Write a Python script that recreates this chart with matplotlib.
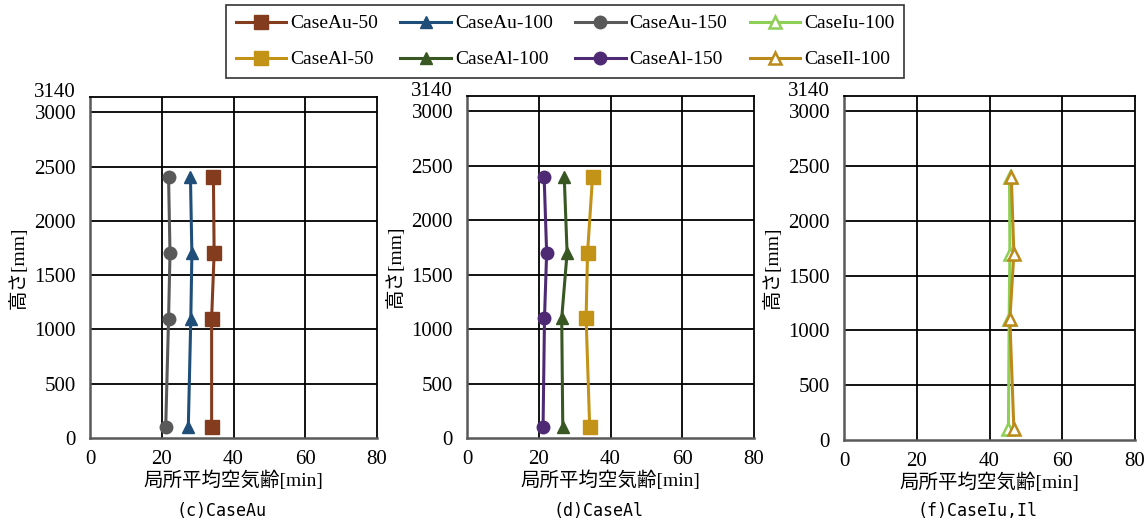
import matplotlib
matplotlib.use("Agg")
import matplotlib.pyplot as plt
from matplotlib.transforms import ScaledTranslation

# Measurement heights [mm]
heights = [100, 1100, 1700, 2400]

# Local mean age of air [min]
au_50 = [33.9, 33.9, 34.6, 34.4]
au_100 = [27.4, 28.1, 28.4, 28.0]
au_150 = [21.1, 21.9, 22.3, 21.9]
al_50 = [34.2, 33.2, 33.6, 35.0]
al_100 = [26.7, 26.4, 27.9, 27.1]
al_150 = [21.2, 21.6, 22.2, 21.5]
iu_100 = [45.2, 45.4, 45.6, 45.5]
il_100 = [46.7, 45.6, 46.7, 46.0]

x_ticks = [0, 20, 40, 60, 80]
y_ticks = [0, 500, 1000, 1500, 2000, 2500, 3000, 3140]
y_grid = [500, 1000, 1500, 2000, 2500, 3000]
captions = ["(c)CaseAu", "(d)CaseAl", "(f)CaseIu,Il"]
xlabel = "局所平均空気齢[min]"
ylabel = "高さ[mm]"

SERIF = ["Liberation Serif", "Noto Sans CJK JP"]
MONO = ["DejaVu Sans Mono", "Noto Sans CJK JP"]

C_AU50 = "#843C1F"
C_AU100 = "#1F4E79"
C_AU150 = "#595959"
C_AL50 = "#C39318"
C_AL100 = "#385723"
C_AL150 = "#4F2A74"
C_IU100 = "#8FCF55"
C_IL100 = "#BC8A1A"

series = {
    0: [("CaseAu-50", au_50, C_AU50, "s", True),
        ("CaseAu-100", au_100, C_AU100, "^", True),
        ("CaseAu-150", au_150, C_AU150, "o", True)],
    1: [("CaseAl-50", al_50, C_AL50, "s", True),
        ("CaseAl-100", al_100, C_AL100, "^", True),
        ("CaseAl-150", al_150, C_AL150, "o", True)],
    2: [("CaseIu-100", iu_100, C_IU100, "^", False),
        ("CaseIl-100", il_100, C_IL100, "^", False)],
}

W, H = 1148, 525
fig = plt.figure(figsize=(W / 100, H / 100), dpi=100)

# pixel boxes (left, top, right, bottom)
boxes = [(90, 97, 377, 438), (467, 96, 754, 438), (844, 96, 1135, 440)]

handles = {}
for i, (l, t, r, b) in enumerate(boxes):
    ax = fig.add_axes([l / W, (H - b) / H, (r - l) / W, (b - t) / H])
    ax.set_xlim(0, 80)
    ax.set_ylim(0, 3140)
    for gx in x_ticks[1:-1]:
        ax.axvline(gx, color="black", lw=1.3, zorder=1)
    for gy in y_grid:
        ax.axhline(gy, color="black", lw=1.3, zorder=1)
    for side in ["top", "right"]:
        ax.spines[side].set_color("black")
        ax.spines[side].set_linewidth(1.3)
    for side in ["left", "bottom"]:
        ax.spines[side].set_color("#595959")
        ax.spines[side].set_linewidth(1.8)
    ax.set_xticks(x_ticks)
    ax.set_yticks(y_ticks)
    ax.tick_params(length=0, labelsize=15)
    ax.tick_params(axis="x", pad=9)
    ax.tick_params(axis="y", pad=10)
    for lab in ax.get_xticklabels() + ax.get_yticklabels():
        lab.set_family(SERIF)
    # lift the top label so it clears the 3000 label
    top_lab = ax.get_yticklabels()[-1]
    top_lab.set_transform(top_lab.get_transform()
                          + ScaledTranslation(0, 7 / 100, fig.dpi_scale_trans))
    ax.set_xlabel(xlabel, family=SERIF, fontsize=14, labelpad=1)
    ax.set_ylabel(ylabel, family=SERIF, fontsize=14, labelpad=5)
    fig.text(((l + r) / 2 - 12) / W, 1 - 511 / H, captions[i], ha="center",
             va="center", family=MONO, fontsize=12)
    for name, vals, col, mk, filled in series[i]:
        ms = 9.5 if mk == "s" else 9
        h, = ax.plot(vals, heights, color=col, lw=2.2, marker=mk, ms=ms,
                     markerfacecolor=col if filled else "white",
                     markeredgecolor=col, markeredgewidth=1.8 if not filled else 1,
                     zorder=3, clip_on=False)
        handles[name] = h

order = ["CaseAu-50", "CaseAl-50", "CaseAu-100", "CaseAl-100",
         "CaseAu-150", "CaseAl-150", "CaseIu-100", "CaseIl-100"]
leg = fig.legend([handles[n] for n in order], order, ncol=4,
                 loc="upper left", bbox_to_anchor=(226 / W, 1 - 5 / H),
                 borderaxespad=0,
                 prop={"family": SERIF, "size": 14}, frameon=True,
                 fancybox=False, edgecolor="black", handlelength=2.6,
                 handletextpad=0.2, columnspacing=1.15, labelspacing=0.95,
                 borderpad=0.5, markerscale=1.0)
leg.get_frame().set_linewidth(1.2)

fig.savefig("out.png", dpi=100)
